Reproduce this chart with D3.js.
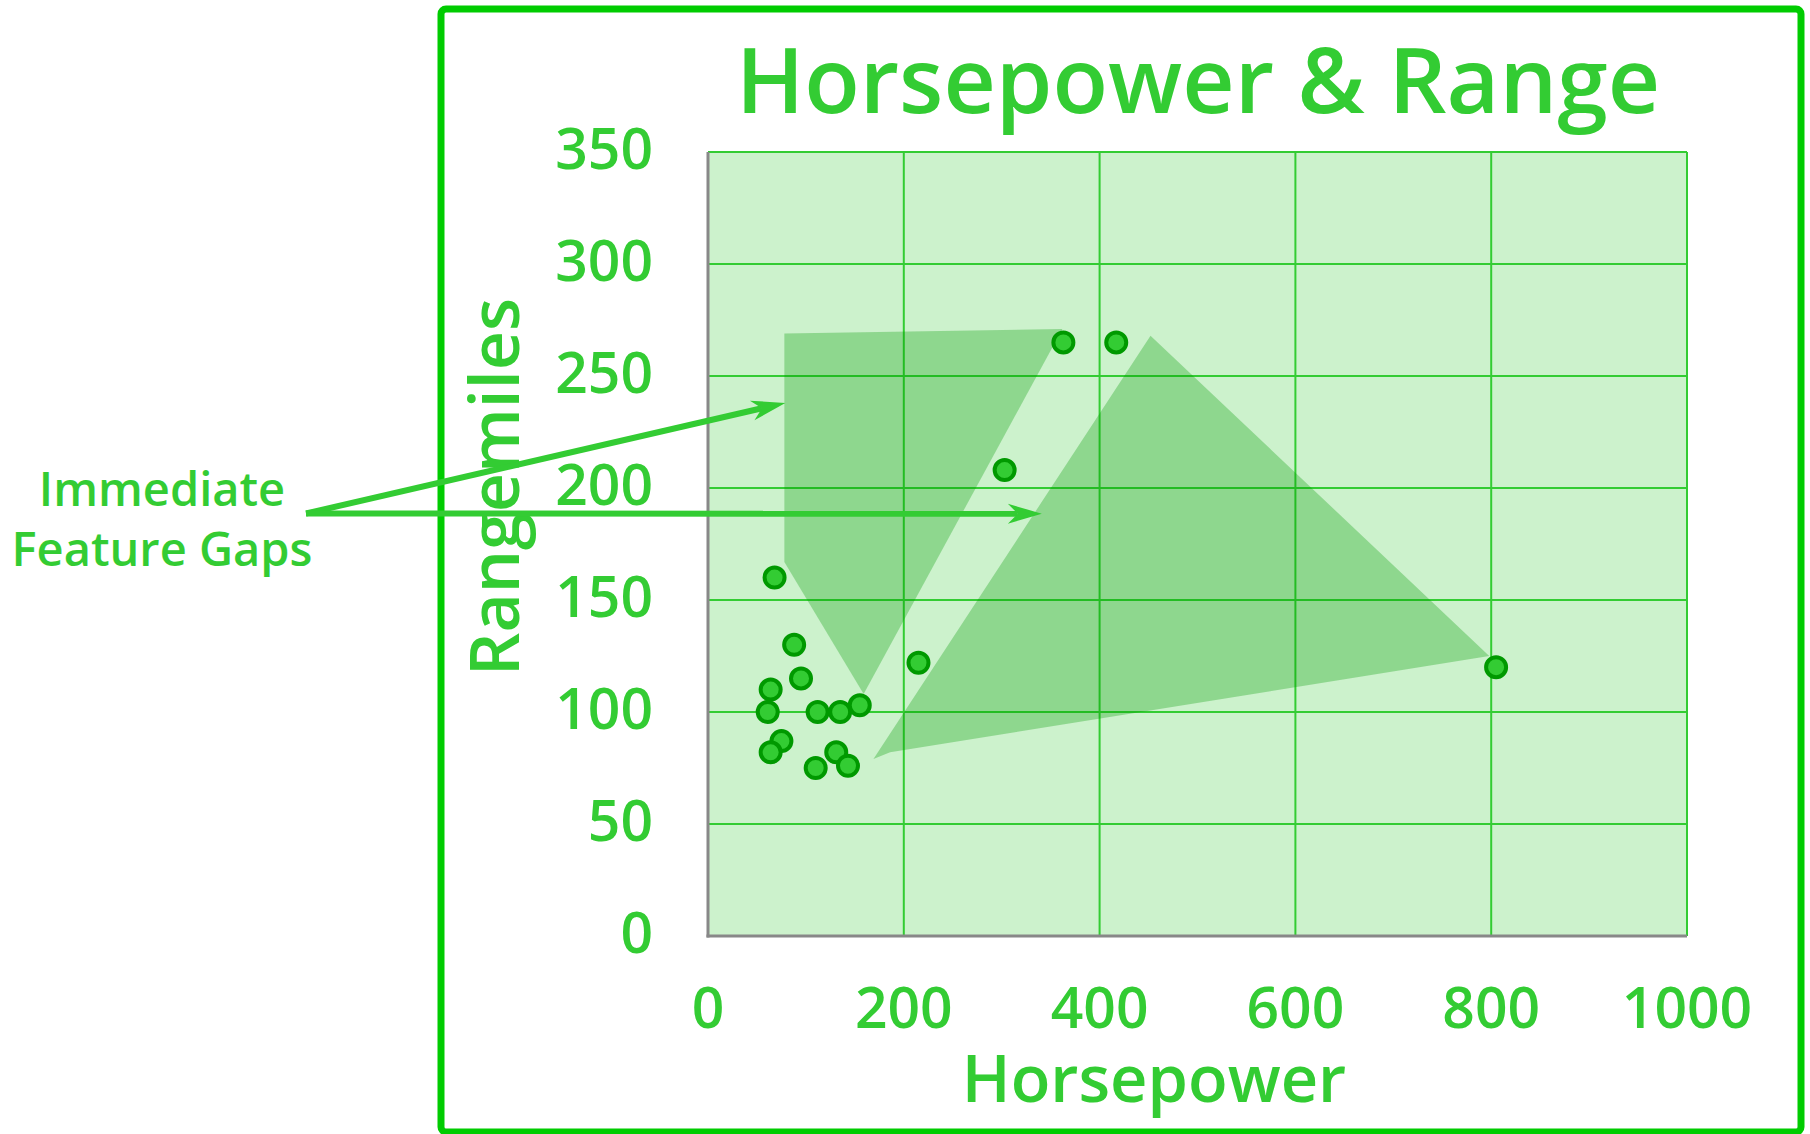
<!DOCTYPE html>
<html>
<head>
<meta charset="utf-8">
<script src="https://cdn.jsdelivr.net/npm/d3@7"></script>
<style>
  html, body { margin: 0; padding: 0; background: #ffffff; }
  svg text { font-family: 'Open Sans', sans-serif; font-weight: 600; fill: #33cc33; }
</style>
</head>
<body>
<div id="chart"></div>
<script>
// Data
const horsepower = [68, 88, 95, 64, 61, 112, 135, 155, 215, 75, 64, 131, 143, 110, 303, 363, 417, 805];
const rangeMiles = [160, 130, 115, 110, 100, 100, 100, 103, 122, 87, 82, 82, 76, 75, 208, 265, 265, 120];

const xTicks = [0, 200, 400, 600, 800, 1000];
const yTicks = [0, 50, 100, 150, 200, 250, 300, 350];

// shaded "gap" regions, [hp, miles]
const gapLeft = [[78, 269], [362, 271], [159, 108], [78, 167]];
const gapRight = [[452, 268], [798, 125], [186, 82], [169, 79]];

// arrow targets, [hp, miles]
const arrowTargets = [[79, 238], [341, 188.5]];

const W = 1810, H = 1134;
const green = '#33cc33';

const svg = d3.select('#chart').append('svg')
    .attr('width', W)
    .attr('height', H);

const x = d3.scaleLinear().domain([0, 1000]).range([708, 1687]);
const y = d3.scaleLinear().domain([0, 350]).range([936, 152]);

// outer frame
svg.append('rect')
    .attr('x', 441).attr('y', 9)
    .attr('width', 1360).attr('height', 1123)
    .attr('rx', 5)
    .attr('fill', 'none')
    .attr('stroke', '#00cc00')
    .attr('stroke-width', 7);

// plot background
svg.append('rect')
    .attr('x', x(0)).attr('y', y(350))
    .attr('width', x(1000) - x(0))
    .attr('height', y(0) - y(350))
    .attr('fill', green)
    .attr('fill-opacity', 0.25);

// grid
svg.append('g').selectAll('line')
    .data(xTicks.slice(1))
    .enter().append('line')
    .attr('x1', d => x(d)).attr('x2', d => x(d))
    .attr('y1', y(0)).attr('y2', y(350))
    .attr('stroke', green).attr('stroke-width', 2);

svg.append('g').selectAll('line')
    .data(yTicks.slice(1))
    .enter().append('line')
    .attr('x1', x(0)).attr('x2', x(1000))
    .attr('y1', d => y(d)).attr('y2', d => y(d))
    .attr('stroke', green).attr('stroke-width', 2);

// shaded regions
const poly = d3.line().x(d => x(d[0])).y(d => y(d[1]));
svg.selectAll('.gap')
    .data([gapLeft, gapRight])
    .enter().append('path')
    .attr('d', d => poly(d) + 'Z')
    .attr('fill', '#009900')
    .attr('fill-opacity', 0.3);

// axis lines
svg.append('line')
    .attr('x1', x(0)).attr('x2', x(0))
    .attr('y1', y(350)).attr('y2', y(0) + 1.5)
    .attr('stroke', '#888888').attr('stroke-width', 3);
svg.append('line')
    .attr('x1', x(0) - 1.5).attr('x2', x(1000))
    .attr('y1', y(0)).attr('y2', y(0))
    .attr('stroke', '#888888').attr('stroke-width', 3);

// tick labels
svg.append('g').selectAll('text')
    .data(yTicks)
    .enter().append('text')
    .attr('x', 653)
    .attr('y', d => y(d))
    .attr('dy', '0.3em')
    .attr('text-anchor', 'end')
    .style('font-size', '57px')
    .text(d => d);

svg.append('g').selectAll('text')
    .data(xTicks)
    .enter().append('text')
    .attr('x', d => x(d))
    .attr('y', 1028)
    .attr('text-anchor', 'middle')
    .style('font-size', '57px')
    .text(d => d);

// points
svg.append('g').selectAll('circle')
    .data(horsepower.map((h, i) => [h, rangeMiles[i]]))
    .enter().append('circle')
    .attr('cx', d => x(d[0]))
    .attr('cy', d => y(d[1]))
    .attr('r', 10)
    .attr('fill', green)
    .attr('stroke', '#009900')
    .attr('stroke-width', 4);

// titles
svg.append('text')
    .attr('x', 1198).attr('y', 113)
    .attr('text-anchor', 'middle')
    .style('font-size', '91px')
    .text('Horsepower & Range');

svg.append('text')
    .attr('x', 1154).attr('y', 1102)
    .attr('text-anchor', 'middle')
    .style('font-size', '65px')
    .text('Horsepower');

const yLab = svg.append('text')
    .attr('transform', 'translate(519,487) rotate(-90)')
    .attr('text-anchor', 'middle')
    .style('font-size', '68px');
yLab.append('tspan').text('Range');
yLab.append('tspan').text('miles');

// annotation
const note = svg.append('text')
    .attr('text-anchor', 'middle')
    .style('font-size', '47px');
note.append('tspan').attr('x', 162).attr('y', 506).text('Immediate');
note.append('tspan').attr('x', 162).attr('y', 566).text('Feature Gaps');

const start = [306, 513.5];
const headLen = 34, headHalf = 10, notch = 24;
arrowTargets.forEach(t => {
    const tx = x(t[0]), ty = y(t[1]);
    const ang = Math.atan2(ty - start[1], tx - start[0]);
    const ca = Math.cos(ang), sa = Math.sin(ang);
    svg.append('line')
        .attr('x1', start[0]).attr('y1', start[1])
        .attr('x2', tx - notch * ca).attr('y2', ty - notch * sa)
        .attr('stroke', green).attr('stroke-width', 6);
    const pt = (bx, by) => [tx + bx * ca - by * sa, ty + bx * sa + by * ca];
    const head = [pt(0, 0), pt(-headLen, -headHalf), pt(-notch, 0), pt(-headLen, headHalf)];
    svg.append('path')
        .attr('d', 'M' + head.map(p => p.join(',')).join('L') + 'Z')
        .attr('fill', green);
});
</script>
</body>
</html>
